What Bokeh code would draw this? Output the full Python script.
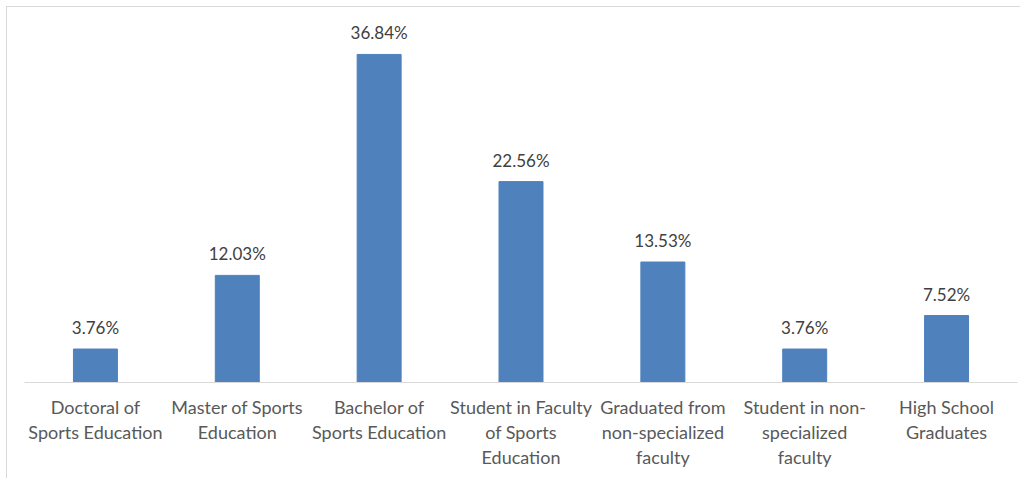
from bokeh.plotting import figure
from bokeh.models import ColumnDataSource
from bokeh.core.properties import value
from bokeh.embed import file_html
from bokeh.resources import INLINE

categories = [
    "Doctoral of\nSports Education",
    "Master of Sports\nEducation",
    "Bachelor of\nSports Education",
    "Student in Faculty\nof Sports\nEducation",
    "Graduated from\nnon-specialized\nfaculty",
    "Student in non-\nspecialized\nfaculty",
    "High School\nGraduates",
]
percentages = [3.76, 12.03, 36.84, 22.56, 13.53, 3.76, 7.52]
value_labels = [f"{v:.2f}%" for v in percentages]

source = ColumnDataSource(dict(cat=categories, val=percentages, lab=value_labels))

# figure placed at (6,6) in the window with a light frame on its left/top edges
p = figure(
    x_range=categories, y_range=(0, 42.0),
    width=1014, height=472, margin=(6, 0, 0, 6),
    min_border_left=17, min_border_right=4, min_border_top=1, min_border_bottom=97,
    output_backend="svg", toolbar_location=None,
)
p.styles = {"border-left": "1px solid #d9d9d9", "border-top": "1px solid #d9d9d9"}
p.outline_line_color = None
p.background_fill_color = "white"
p.border_fill_color = "white"
p.xgrid.visible = False
p.ygrid.visible = False
p.yaxis.visible = False
p.x_range.range_padding = 0

p.vbar(x="cat", top="val", width=0.31, source=source,
       fill_color="#4f81bd", line_color="#4f81bd")

p.text(x="cat", y="val", text="lab", source=source,
       text_align="center", text_baseline="bottom", y_offset=-11,
       text_font=value("Lato"), text_font_size="17px", text_color="#404040")

ax = p.xaxis[0]
ax.axis_line_color = "#d9d9d9"
ax.axis_line_width = 1
ax.major_tick_line_color = None
ax.minor_tick_line_color = None
ax.major_label_standoff = 7
ax.major_label_text_font = "Lato"
ax.major_label_text_font_size = "18px"
ax.major_label_text_color = "#595959"
ax.major_label_text_line_height = 1.14

open("out.html", "w").write(file_html(p, INLINE))
